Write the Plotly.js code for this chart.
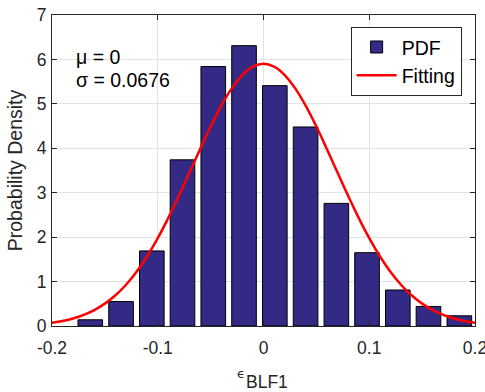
<!DOCTYPE html>
<html>
<head>
<meta charset="utf-8">
<script src="https://cdn.plot.ly/plotly-3.0.1.min.js"></script>
<style>html,body{margin:0;padding:0;background:#fff;}#chart{width:485px;height:392px;}</style>
</head>
<body>
<div id="chart"></div>
<script>
// Histogram bin centers and probability densities
const binCenters = [-0.1638, -0.1347, -0.1056, -0.0766, -0.0475, -0.0184, 0.0107, 0.0398, 0.0689, 0.0979, 0.1270, 0.1560, 0.1852];
const pdfValues  = [0.14, 0.55, 1.69, 3.74, 5.84, 6.31, 5.41, 4.48, 2.76, 1.65, 0.81, 0.44, 0.23];

// Fitted normal curve (mu = 0, sigma = 0.0676), sampled points
const fitX = [-0.20,-0.19,-0.18,-0.17,-0.16,-0.15,-0.14,-0.13,-0.12,-0.11,-0.10,-0.09,-0.08,-0.07,-0.06,-0.05,-0.04,-0.03,-0.02,-0.01,0.00,
              0.01,0.02,0.03,0.04,0.05,0.06,0.07,0.08,0.09,0.10,0.11,0.12,0.13,0.14,0.15,0.16,0.17,0.18,0.19,0.20];
const fitY = [0.074,0.114,0.170,0.250,0.358,0.503,0.691,0.929,1.221,1.570,1.976,2.433,2.930,3.453,3.980,4.489,4.954,5.348,5.649,5.837,5.902,
              5.837,5.649,5.348,4.954,4.489,3.980,3.453,2.930,2.433,1.976,1.570,1.221,0.929,0.691,0.503,0.358,0.250,0.170,0.114,0.074];

const xTicks = [-0.2, -0.1, 0, 0.1, 0.2];
const xTickLabels = ['-0.2', '-0.1', '0', '0.1', '0.2'];
const yTicks = [0, 1, 2, 3, 4, 5, 6, 7];
const seriesNames = ['PDF', 'Fitting'];
const statLines = ['μ = 0', 'σ = 0.0676'];

const binStep = binCenters[1] - binCenters[0];
const FONT = 'Liberation Sans, Arial, sans-serif';
const INK = '#262626';

const traces = [
  {
    type: 'bar', x: binCenters, y: pdfValues, name: seriesNames[0],
    width: binStep * 0.8,
    marker: {color: 'rgb(51,42,133)', line: {color: '#000', width: 1}}
  },
  {
    type: 'scatter', mode: 'lines', x: fitX, y: fitY, name: seriesNames[1],
    line: {color: '#ff0000', width: 2.5, shape: 'spline'}
  }
];

const axisCommon = {
  showline: true, linecolor: INK, linewidth: 1, mirror: 'ticks',
  ticks: 'inside', ticklen: 5, tickcolor: INK, tickwidth: 1,
  showgrid: true, gridcolor: '#e3e3e3', gridwidth: 1, zeroline: false,
  ticklabeloverflow: 'allow',
  tickfont: {family: FONT, size: 17.5, color: INK}
};

const layout = {
  width: 485, height: 392,
  margin: {l: 51.5, r: 10.3, t: 14.7, b: 66},
  paper_bgcolor: '#fff', plot_bgcolor: '#fff',
  showlegend: true,
  legend: {
    x: 0.706, y: 0.962, xanchor: 'left', yanchor: 'top',
    bgcolor: '#fff', bordercolor: INK, borderwidth: 1,
    font: {family: FONT, size: 19.5, color: '#000'},
    itemwidth: 40, tracegroupgap: 0
  },
  xaxis: Object.assign({}, axisCommon, {
    range: [-0.2, 0.2], tickmode: 'array', tickvals: xTicks, ticktext: xTickLabels,
    ticklabelstandoff: 6
  }),
  yaxis: Object.assign({}, axisCommon, {
    range: [0, 7], tickmode: 'array', tickvals: yTicks, ticklabelstandoff: 1,
    title: {text: 'Probability Density', font: {family: FONT, size: 19.5, color: INK}, standoff: 8}
  }),
  bargap: 0,
  annotations: [
    {xref: 'paper', yref: 'paper', x: 0.052, y: 0.864, xanchor: 'left', yanchor: 'middle', showarrow: false,
     text: statLines[0], font: {family: FONT, size: 19.5, color: '#000'}},
    {xref: 'paper', yref: 'paper', x: 0.052, y: 0.79, xanchor: 'left', yanchor: 'middle', showarrow: false,
     text: statLines[1], font: {family: FONT, size: 19.5, color: '#000'}},
    {xref: 'paper', yref: 'paper', x: 0.446, y: -0.152, xanchor: 'center', yanchor: 'middle', showarrow: false,
     text: 'ϵ', font: {family: 'DejaVu Sans, sans-serif', size: 13, color: INK}},
    {xref: 'paper', yref: 'paper', x: 0.455, y: -0.18, xanchor: 'left', yanchor: 'middle', showarrow: false,
     text: 'BLF1', font: {family: FONT, size: 17.5, color: INK}}
  ]
};

Plotly.newPlot('chart', traces, layout, {displayModeBar: false, staticPlot: true});
</script>
</body>
</html>
